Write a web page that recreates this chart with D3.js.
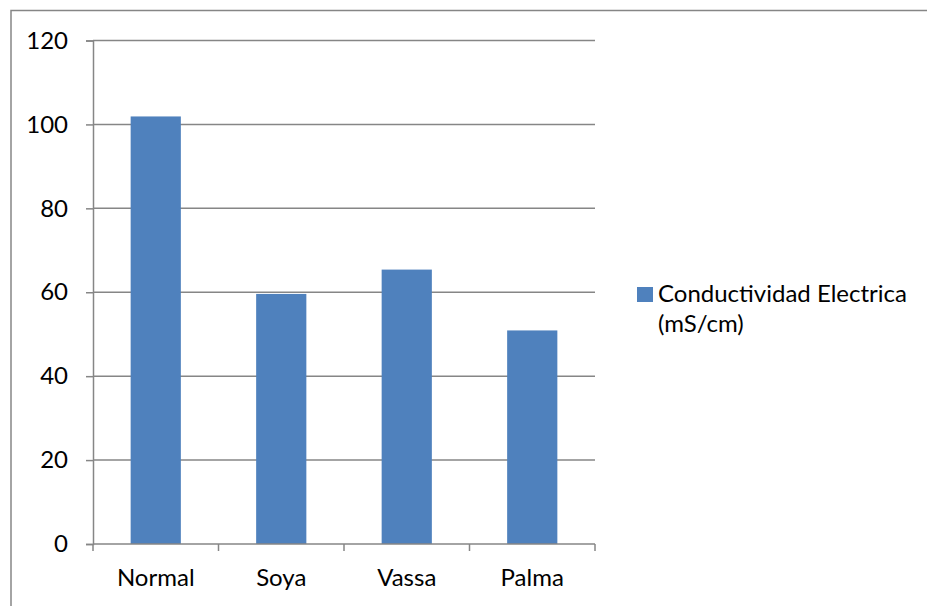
<!DOCTYPE html>
<html>
<head>
<meta charset="utf-8">
<script src="https://cdn.jsdelivr.net/npm/d3@7"></script>
<style>
  html, body { margin: 0; padding: 0; background: #fff; }
  svg { display: block; }
  text { font-family: Lato, "Open Sans", sans-serif; fill: #000; }
</style>
</head>
<body>
<svg id="chart" width="927" height="606"></svg>
<script>
// Conductividad eléctrica por tipo de muestra
const categories = ["Normal", "Soya", "Vassa", "Palma"];
const values = [101.9, 59.6, 65.4, 50.9];
const yTicks = [0, 20, 40, 60, 80, 100, 120];
const seriesName = ["Conductividad Electrica", "(mS/cm)"];

const svg = d3.select("#chart");
const W = 927, H = 606;
const plot = { left: 93, right: 595, top: 40.5, bottom: 544 };
const barColor = "#4F81BD";
const lineColor = "#868686";
const fontSize = 24;

// Outer frame of the chart area
svg.append("rect")
  .attr("x", 11).attr("y", 10.5)
  .attr("width", W + 10).attr("height", H + 10)
  .attr("fill", "#fff").attr("stroke", lineColor).attr("stroke-width", 1.5);

const x = d3.scaleBand().domain(categories)
  .range([plot.left, plot.right]).paddingInner(0.6).paddingOuter(0.3);
const y = d3.scaleLinear().domain([0, 120]).range([plot.bottom, plot.top]);

// Horizontal gridlines
svg.append("g").selectAll("line").data(yTicks.filter(d => d > 0)).join("line")
  .attr("x1", plot.left).attr("x2", plot.right)
  .attr("y1", d => y(d)).attr("y2", d => y(d))
  .attr("stroke", lineColor).attr("stroke-width", 1.5);

// Bars
svg.append("g").selectAll("rect").data(values).join("rect")
  .attr("x", (d, i) => x(categories[i]))
  .attr("width", x.bandwidth())
  .attr("y", d => y(d))
  .attr("height", d => y(0) - y(d))
  .attr("fill", barColor);

// Y axis
const yAxis = d3.axisLeft(y).tickValues(yTicks).tickSize(7).tickPadding(18);
const gy = svg.append("g").attr("transform", `translate(${plot.left},0)`).call(yAxis);
gy.select(".domain").attr("stroke", lineColor).attr("stroke-width", 1.5);
gy.selectAll(".tick line").attr("stroke", lineColor).attr("stroke-width", 1.5);
gy.selectAll(".tick text").attr("font-size", fontSize).attr("font-family", "Lato, sans-serif");

// X axis: category boundaries carry the tick marks
const gx = svg.append("g").attr("transform", `translate(0,${plot.bottom})`);
gx.append("line").attr("x1", plot.left).attr("x2", plot.right)
  .attr("stroke", lineColor).attr("stroke-width", 1.5);
const bounds = d3.range(categories.length + 1).map(i => plot.left + i * (plot.right - plot.left) / categories.length);
gx.selectAll("line.tk").data(bounds).join("line").attr("class", "tk")
  .attr("x1", d => d).attr("x2", d => d).attr("y1", 0).attr("y2", 7)
  .attr("stroke", lineColor).attr("stroke-width", 1.5);
gx.selectAll("text").data(categories).join("text")
  .attr("x", d => x(d) + x.bandwidth() / 2).attr("y", 42)
  .attr("text-anchor", "middle").attr("font-size", fontSize)
  .text(d => d);

// Legend
const lg = svg.append("g");
lg.append("rect").attr("x", 637).attr("y", 287).attr("width", 16).attr("height", 15).attr("fill", barColor);
lg.selectAll("text").data(seriesName).join("text")
  .attr("x", 658).attr("y", (d, i) => 302 + i * 30)
  .attr("font-size", fontSize).text(d => d);
</script>
</body>
</html>
